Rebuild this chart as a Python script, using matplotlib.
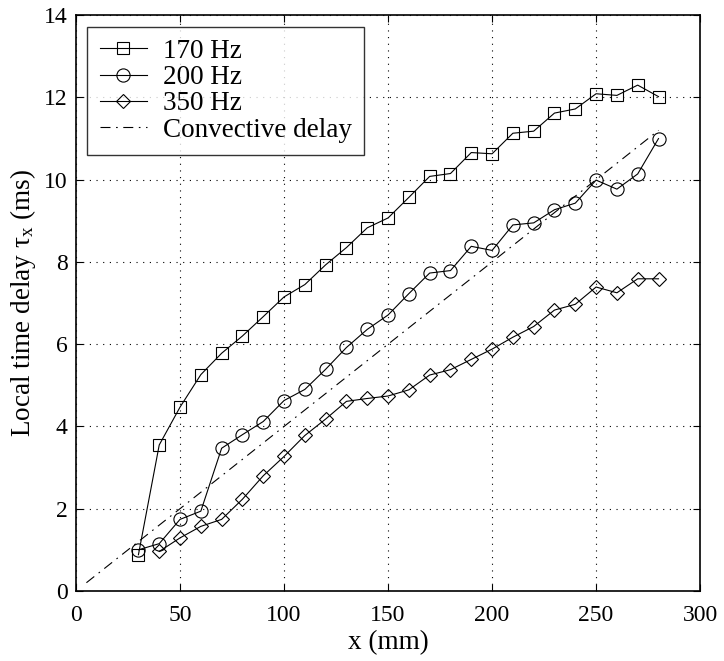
import matplotlib
matplotlib.use("Agg")
import matplotlib.pyplot as plt
import numpy as np

plt.rcParams['font.family'] = ['Liberation Serif', 'DejaVu Serif']
plt.rcParams['mathtext.fontset'] = 'stix'

x_pos = [30, 40, 50, 60, 70, 80, 90, 100, 110, 120, 130, 140, 150, 160, 170,
         180, 190, 200, 210, 220, 230, 240, 250, 260, 270, 280]
x_pos_350 = x_pos[1:]

delay_170 = [0.88, 3.55, 4.47, 5.26, 5.78, 6.2, 6.67, 7.15, 7.45, 7.93, 8.35, 8.83,
             9.07, 9.57, 10.08, 10.15, 10.66, 10.63, 11.13, 11.18, 11.62, 11.72,
             12.09, 12.05, 12.3, 12.02]
delay_200 = [1.0, 1.15, 1.74, 1.94, 3.47, 3.8, 4.12, 4.63, 4.9, 5.39, 5.92, 6.36,
             6.71, 7.23, 7.73, 7.79, 8.38, 8.28, 8.9, 8.95, 9.27, 9.43, 9.99,
             9.77, 10.14, 11.0]
delay_350 = [0.96, 1.29, 1.57, 1.74, 2.23, 2.8, 3.27, 3.78, 4.18, 4.61, 4.68,
             4.74, 4.89, 5.25, 5.38, 5.63, 5.88, 6.17, 6.43, 6.83, 6.97, 7.39,
             7.25, 7.59, 7.59]

x_conv = [5, 280]
delay_conv = [0.2, 11.2]

fig = plt.figure(figsize=(7.24, 6.61), dpi=100)
ax = fig.add_axes([0.105, 0.106, 0.862, 0.871])

lw = 0.8
ax.plot(x_pos, delay_170, 'k-s', lw=lw, ms=8.5, mfc='none', mew=0.8, label='170 Hz')
ax.plot(x_pos, delay_200, 'k-o', lw=lw, ms=9.5, mfc='none', mew=0.8, label='200 Hz')
ax.plot(x_pos_350, delay_350, 'k-D', lw=lw, ms=7, mfc='none', mew=0.8, label='350 Hz')
ax.plot(x_conv, delay_conv, 'k', lw=lw, dashes=[9, 5, 1.5, 5], label='Convective delay')

ax.set_xlim(0, 300)
ax.set_ylim(0, 14)
ax.set_xticks(np.arange(0, 301, 50))
ax.set_yticks(np.arange(0, 15, 2))
ax.grid(True, color='k', linestyle=(0, (1, 5)), linewidth=0.8)
ax.tick_params(direction='in', top=True, right=True, labelsize=17, length=5)
ax.tick_params(axis='x', pad=10)
ax.tick_params(axis='y', pad=6)
for s in ax.spines.values():
    s.set_linewidth(1.2)

ax.set_xlabel('x (mm)', fontsize=19.5, labelpad=3)
ax.set_ylabel(r'Local time delay τ$_\mathregular{x}$ (ms)', fontsize=19.5, labelpad=4)

leg = ax.legend(loc='upper left', fontsize=19.5, frameon=True, fancybox=False,
                edgecolor='k', handlelength=1.75, borderpad=0.45, labelspacing=0.05,
                handletextpad=0.6, borderaxespad=0.42)
leg.get_frame().set_linewidth(1.0)

fig.savefig('out.png', dpi=100)
